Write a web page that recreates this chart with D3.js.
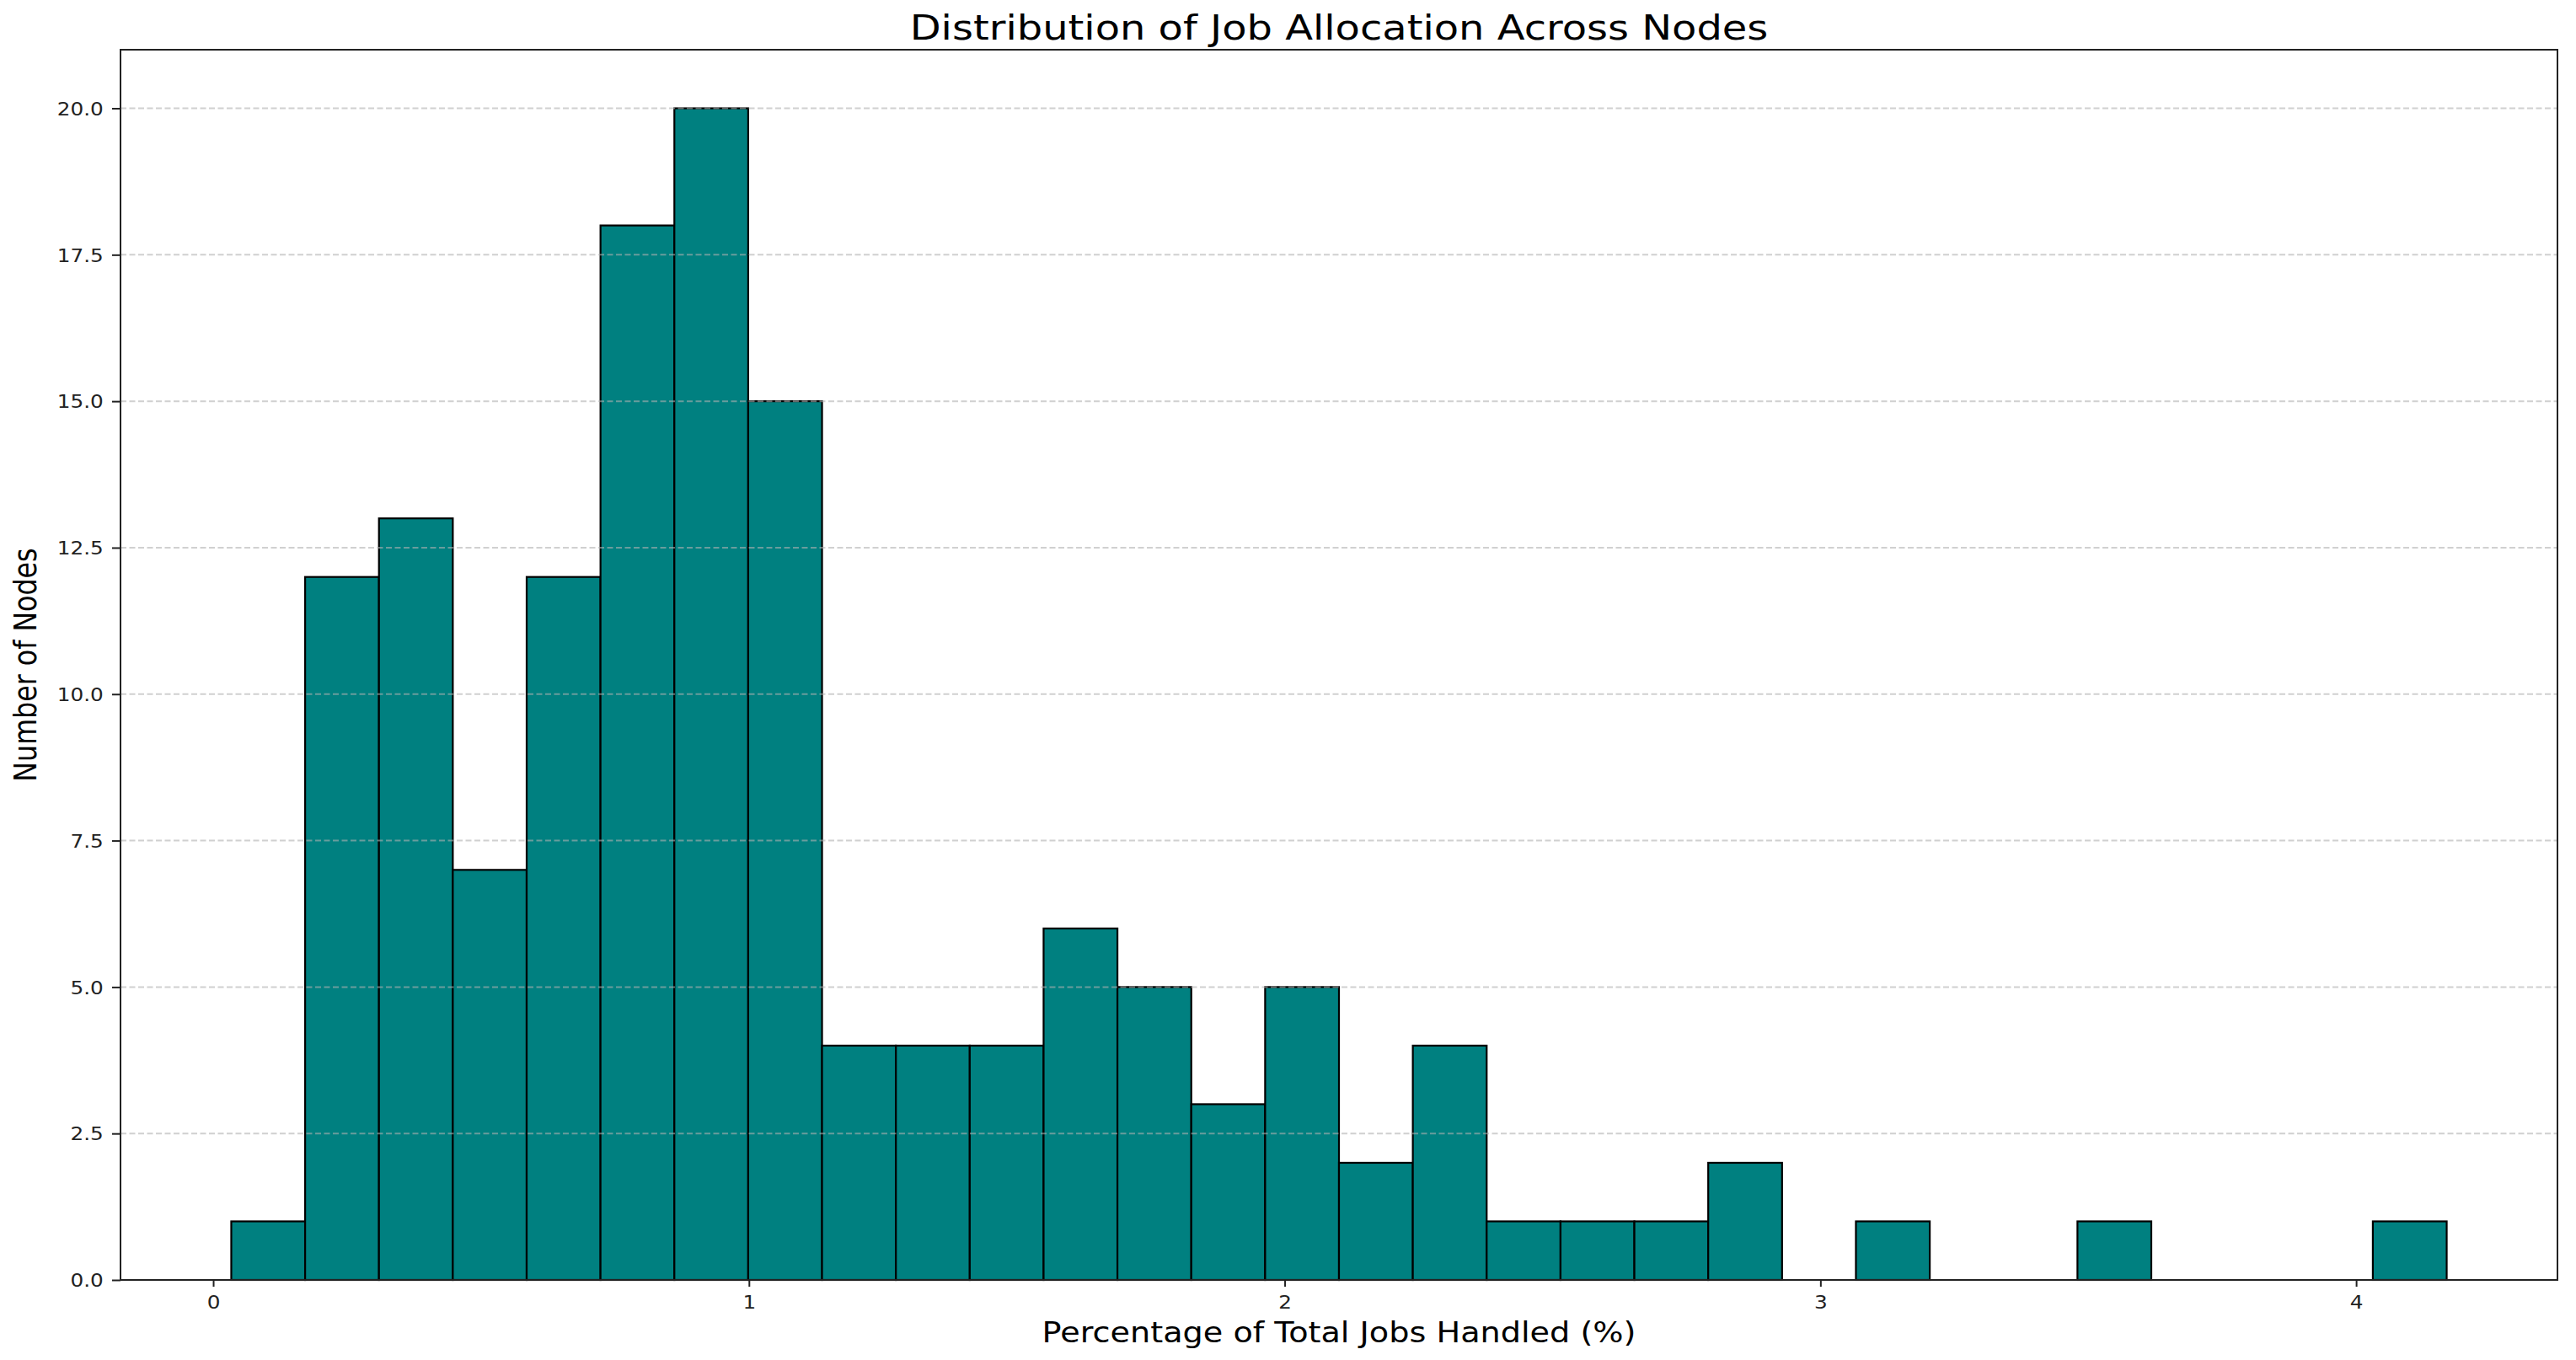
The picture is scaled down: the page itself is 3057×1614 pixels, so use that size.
<!DOCTYPE html>
<html>
<head>
<meta charset="utf-8">
<script src="https://cdn.jsdelivr.net/npm/d3@7"></script>
<style>
  html, body { margin: 0; padding: 0; background: #fff; }
  svg { display: block; font-family: "DejaVu Sans", sans-serif; }
</style>
</head>
<body>
<svg id="chart" width="3057" height="1614"></svg>
<script>
// ---- data ----
const binMin = 0.0337;      // left edge of first bin (%)
const binMax = 4.169;       // right edge of last bin (%)
const counts = [1, 12, 13, 7, 12, 18, 20, 15, 4, 4, 4, 6, 5, 3, 5, 2, 4, 1, 1, 1, 2, 0, 1, 0, 0, 1, 0, 0, 0, 1];
const xTicks = [0, 1, 2, 3, 4];
const yTicks = [0, 2.5, 5, 7.5, 10, 12.5, 15, 17.5, 20];
const titleText = "Distribution of Job Allocation Across Nodes";
const xLabelText = "Percentage of Total Jobs Handled (%)";
const yLabelText = "Number of Nodes";

(function () {
// ---- layout ----
const padL = 143, padR = 3035, padT = 59, padB = 1519;
const SX = 1.15; // horizontal text stretch seen in the reference

const nb = counts.length;
const bw = (binMax - binMin) / nb;
const bins = counts.map((c, i) => ({ x0: binMin + i * bw, x1: binMin + (i + 1) * bw, c }));
const span = binMax - binMin;

const x = d3.scaleLinear().domain([binMin - 0.05 * span, binMax + 0.05 * span]).range([padL, padR]);
const y = d3.scaleLinear().domain([0, 21]).range([padB, padT]);

const svg = d3.select("#chart");

// bars
svg.append("g").selectAll("rect").data(bins.filter(b => b.c > 0)).join("rect")
  .attr("x", d => x(d.x0))
  .attr("y", d => y(d.c))
  .attr("width", d => x(d.x1) - x(d.x0))
  .attr("height", d => y(0) - y(d.c))
  .attr("fill", "#008080")
  .attr("stroke", "#000")
  .attr("stroke-width", 2.2);

// grid (drawn over bars, like the reference)
svg.append("g").selectAll("line").data(yTicks).join("line")
  .attr("x1", padL).attr("x2", padR)
  .attr("y1", d => y(d)).attr("y2", d => y(d))
  .attr("stroke", "#b0b0b0")
  .attr("stroke-opacity", 0.6)
  .attr("stroke-width", 2)
  .attr("stroke-dasharray", "7,3.5");

// axes
const fmtY = d3.format(".1f");
const gx = svg.append("g").attr("transform", `translate(0,${padB})`)
  .call(d3.axisBottom(x).tickValues(xTicks).tickFormat(d3.format("d")).tickSize(8).tickPadding(0));
const gy = svg.append("g").attr("transform", `translate(${padL},0)`)
  .call(d3.axisLeft(y).tickValues(yTicks).tickFormat(fmtY).tickSize(10).tickPadding(0));
[gx, gy].forEach(g => {
  g.select(".domain").remove();
  g.selectAll(".tick line").attr("stroke", "#222").attr("stroke-width", 2);
  g.selectAll(".tick text")
    .attr("fill", "#222")
    .style("font-family", "DejaVu Sans")
    .style("font-size", "21.5px");
});
gx.selectAll(".tick text").attr("y", 34).attr("dy", 0).attr("transform", `scale(${SX},1)`);
gy.selectAll(".tick text").attr("x", -20.3 / SX).attr("dy", "0.36em").attr("transform", `scale(${SX},1)`);

// frame
svg.append("rect")
  .attr("x", padL).attr("y", padT)
  .attr("width", padR - padL).attr("height", padB - padT)
  .attr("fill", "none").attr("stroke", "#222").attr("stroke-width", 2);

// title
svg.append("g").attr("transform", `translate(${(padL + padR) / 2},47) scale(${SX},1)`)
  .append("text").attr("text-anchor", "middle")
  .style("font-size", "41.7px").attr("fill", "#000").text(titleText);

// x label
svg.append("g").attr("transform", `translate(${(padL + padR) / 2},1593) scale(${SX},1)`)
  .append("text").attr("text-anchor", "middle")
  .style("font-size", "33.2px").attr("fill", "#000").text(xLabelText);

// y label
svg.append("g").attr("transform", `translate(43,${(padT + padB) / 2}) scale(${SX},1) rotate(-90)`)
  .append("text").attr("text-anchor", "middle")
  .style("font-size", "31.7px").attr("fill", "#000").text(yLabelText);
})();
</script>
</body>
</html>
